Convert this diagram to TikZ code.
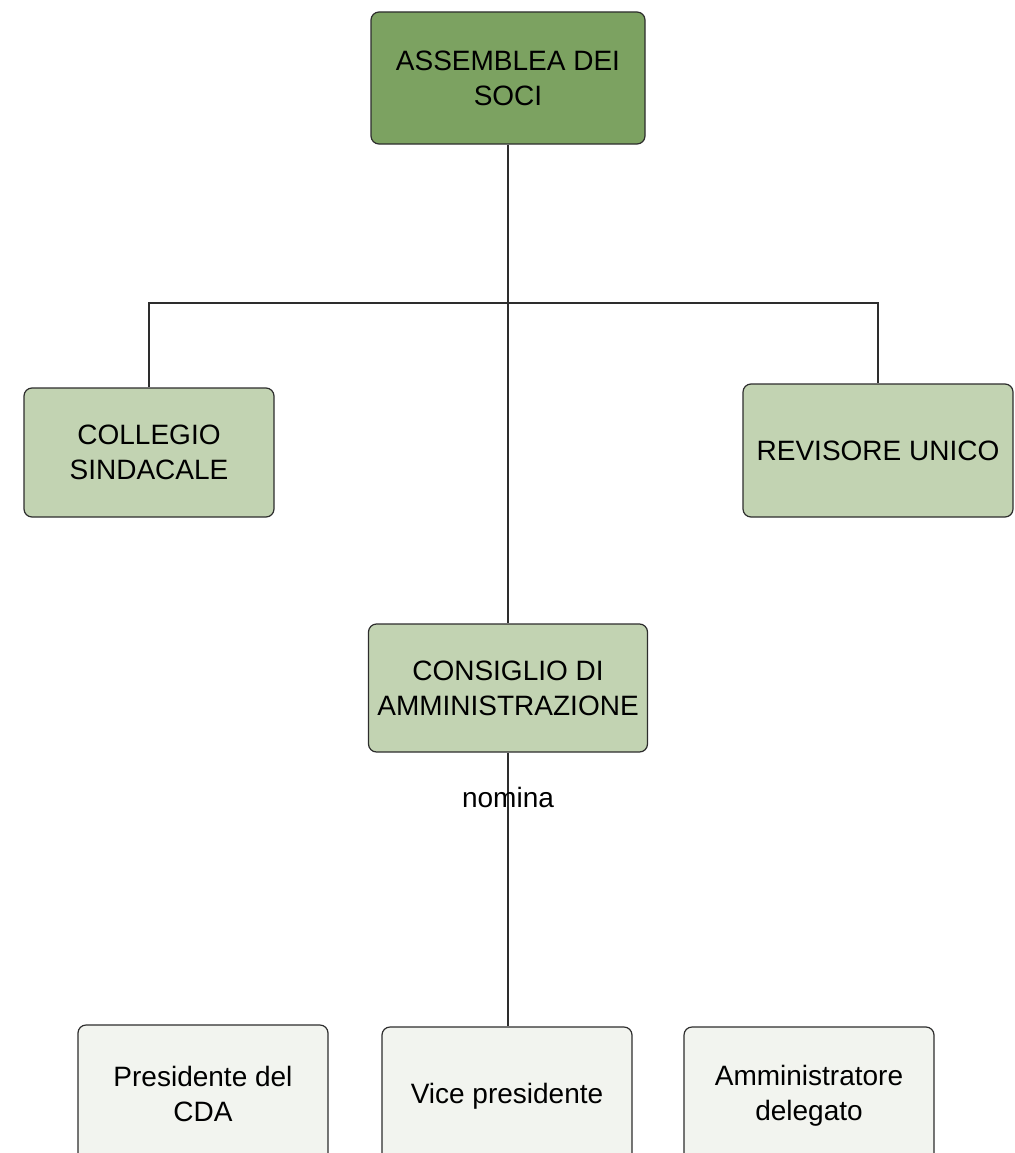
\documentclass[tikz,border=0pt]{standalone}
\usepackage{fontspec}
\setmainfont{Liberation Sans}
\usepackage{tikz}
\usetikzlibrary{positioning}
\definecolor{darkgreen}{RGB}{124,162,97}
\definecolor{lightgreen}{RGB}{194,211,178}
\definecolor{palegreen}{RGB}{242,244,239}
\definecolor{edge}{RGB}{45,45,45}

\begin{document}
\begin{tikzpicture}[x=1pt,y=-1pt,
  box/.style={draw=edge,line width=1.2pt,rounded corners=8pt,align=center,
    minimum width=250pt,minimum height=129pt,inner sep=0pt,
    font=\fontsize{28}{35}\selectfont},
  link/.style={draw=edge,line width=1.2pt}]
\useasboundingbox (0,0) rectangle (1014,1153);
% top level
\node[box,fill=darkgreen,minimum width=274pt,minimum height=132pt] (assemblea) at (508,78) {ASSEMBLEA DEI\\SOCI};
% control bodies
\node[box,fill=lightgreen] (collegio) at (149,452.5) {COLLEGIO\\SINDACALE};
\node[box,fill=lightgreen,minimum width=270pt,minimum height=133pt] (revisore) at (878,450.5) {REVISORE UNICO};
\node[box,fill=lightgreen,minimum width=279pt,minimum height=128pt] (cda) at (508,688) {CONSIGLIO DI\\AMMINISTRAZIONE};
% roles
\node[box,fill=palegreen,minimum height=138pt] (presidente) at (203,1094) {Presidente del\\CDA};
\node[box,fill=palegreen,minimum height=138pt] (vice) at (507,1096) {Vice presidente};
\node[box,fill=palegreen,minimum height=138pt] (amministratore) at (809,1096) {Amministratore\\delegato};
% connectors
\coordinate (split) at (assemblea.south |- 0,303);
\draw[link] (assemblea.south) -- (assemblea.south |- cda.north);
\draw[link] (collegio.north) |- (split) -| (revisore.north);
\draw[link] (cda.south) -- (cda.south |- vice.north)
  node[pos=0.164,font=\fontsize{28}{35}\selectfont] {nomina};
\end{tikzpicture}
\end{document}
